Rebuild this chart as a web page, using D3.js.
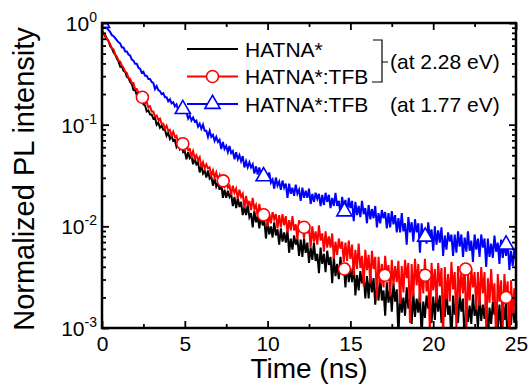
<!DOCTYPE html>
<html>
<head>
<meta charset="utf-8">
<script src="https://cdn.jsdelivr.net/npm/d3@7"></script>
<style>
  body { margin: 0; background: #fff; }
  svg { display: block; }
  text { font-family: "Liberation Sans", Arial, sans-serif; fill: #000; }
</style>
</head>
<body>
<div id="chart"></div>
<script>
// time grid of the decay traces (ns): one sample every 0.1 ns from 0 to 25
const timeStep = 0.1;
const sampleCount = 251;

// log10 of the normalized PL intensity (10 samples = 1 ns per row)
const blackLog = [
  -0.07, -0.11, -0.12, -0.16, -0.18, -0.23, -0.25, -0.29, -0.31, -0.35,
  -0.38, -0.43, -0.43, -0.47, -0.48, -0.53, -0.54, -0.58, -0.60, -0.66,
  -0.66, -0.71, -0.72, -0.76, -0.75, -0.80, -0.81, -0.87, -0.86, -0.90,
  -0.90, -0.94, -0.93, -1.00, -0.98, -1.03, -1.01, -1.05, -1.05, -1.11,
  -1.08, -1.14, -1.11, -1.16, -1.15, -1.22, -1.19, -1.24, -1.21, -1.27,
  -1.26, -1.34, -1.27, -1.33, -1.31, -1.39, -1.33, -1.39, -1.37, -1.47,
  -1.40, -1.48, -1.45, -1.52, -1.45, -1.53, -1.51, -1.60, -1.53, -1.61,
  -1.57, -1.64, -1.58, -1.72, -1.64, -1.72, -1.65, -1.71, -1.68, -1.80,
  -1.71, -1.82, -1.72, -1.81, -1.76, -1.89, -1.81, -1.89, -1.79, -1.91,
  -1.87, -2.01, -1.85, -1.96, -1.90, -2.02, -1.89, -1.99, -1.94, -2.12,
  -1.95, -2.08, -2.00, -2.11, -1.96, -2.09, -2.03, -2.18, -2.02, -2.15,
  -2.06, -2.16, -2.04, -2.26, -2.12, -2.23, -2.09, -2.18, -2.12, -2.29,
  -2.13, -2.30, -2.12, -2.26, -2.16, -2.36, -2.21, -2.33, -2.16, -2.34,
  -2.27, -2.46, -2.21, -2.37, -2.27, -2.45, -2.24, -2.38, -2.30, -2.56,
  -2.30, -2.49, -2.37, -2.52, -2.30, -2.47, -2.39, -2.60, -2.36, -2.55,
  -2.41, -2.55, -2.37, -2.68, -2.48, -2.63, -2.44, -2.56, -2.48, -2.71,
  -2.49, -2.71, -2.46, -2.65, -2.51, -2.77, -2.57, -2.73, -2.49, -2.73,
  -2.63, -2.88, -2.55, -2.75, -2.61, -2.84, -2.56, -2.74, -2.62, -3.10,
  -2.62, -2.85, -2.70, -2.88, -2.60, -2.81, -2.71, -2.96, -2.66, -2.89,
  -2.71, -2.85, -2.65, -3.10, -2.74, -2.90, -2.68, -2.81, -2.69, -2.95,
  -2.69, -2.92, -2.65, -2.84, -2.68, -2.95, -2.73, -2.89, -2.63, -2.87,
  -2.78, -3.15, -2.68, -2.87, -2.73, -2.95, -2.67, -2.84, -2.71, -3.20,
  -2.72, -2.94, -2.78, -2.96, -2.67, -2.88, -2.77, -3.01, -2.70, -2.93,
  -2.77, -2.91, -2.71, -3.15, -2.80, -2.96, -2.74, -2.87, -2.75, -3.01,
  -2.77, -3.00, -2.73, -2.92, -2.76, -3.20, -2.81, -2.97, -2.71, -2.95,
  -2.85
];
const redLog = [
  -0.07, -0.10, -0.14, -0.15, -0.18, -0.21, -0.25, -0.26, -0.31, -0.33,
  -0.37, -0.38, -0.42, -0.44, -0.48, -0.49, -0.54, -0.55, -0.59, -0.59,
  -0.65, -0.65, -0.69, -0.69, -0.73, -0.74, -0.79, -0.78, -0.83, -0.82,
  -0.87, -0.87, -0.92, -0.91, -0.95, -0.94, -0.99, -0.99, -1.04, -1.01,
  -1.06, -1.05, -1.11, -1.07, -1.12, -1.11, -1.19, -1.15, -1.20, -1.19,
  -1.24, -1.19, -1.25, -1.24, -1.31, -1.26, -1.33, -1.30, -1.35, -1.32,
  -1.42, -1.37, -1.43, -1.39, -1.43, -1.42, -1.50, -1.45, -1.52, -1.47,
  -1.54, -1.50, -1.60, -1.54, -1.60, -1.54, -1.62, -1.60, -1.69, -1.60,
  -1.67, -1.63, -1.73, -1.64, -1.71, -1.68, -1.82, -1.70, -1.80, -1.75,
  -1.84, -1.72, -1.83, -1.79, -1.91, -1.78, -1.89, -1.83, -1.90, -1.83,
  -2.00, -1.88, -1.97, -1.86, -1.93, -1.88, -2.02, -1.89, -2.01, -1.88,
  -1.99, -1.90, -2.06, -1.94, -2.04, -1.90, -2.04, -1.98, -2.13, -1.94,
  -2.06, -1.98, -2.12, -1.95, -2.07, -2.00, -2.21, -2.00, -2.15, -2.05,
  -2.18, -1.99, -2.14, -2.07, -2.25, -2.05, -2.21, -2.10, -2.21, -2.07,
  -2.32, -2.15, -2.28, -2.12, -2.22, -2.15, -2.35, -2.16, -2.34, -2.14,
  -2.32, -2.18, -2.48, -2.23, -2.42, -2.17, -2.41, -2.29, -2.59, -2.23,
  -2.43, -2.28, -2.56, -2.24, -2.42, -2.30, -2.72, -2.30, -2.56, -2.37,
  -2.60, -2.29, -2.50, -2.38, -2.69, -2.33, -2.58, -2.39, -2.55, -2.34,
  -2.76, -2.39, -2.65, -2.33, -2.51, -2.36, -2.95, -2.37, -2.69, -2.32,
  -2.58, -2.37, -2.75, -2.42, -2.66, -2.32, -2.64, -2.46, -3.05, -2.36,
  -2.63, -2.42, -2.75, -2.36, -2.59, -2.41, -3.10, -2.40, -2.72, -2.47,
  -2.74, -2.35, -2.62, -2.45, -3.00, -2.39, -2.70, -2.45, -2.66, -2.38,
  -3.05, -2.48, -2.73, -2.41, -2.60, -2.45, -2.82, -2.45, -2.78, -2.40,
  -2.66, -2.45, -3.00, -2.51, -2.75, -2.42, -2.74, -2.56, -3.15, -2.47,
  -2.74, -2.53, -3.00, -2.47, -2.71, -2.54, -3.20, -2.53, -2.86, -2.61,
  -2.89
];
const blueLog = [
   0.00, -0.02, -0.04, -0.05, -0.07, -0.09, -0.12, -0.13, -0.15, -0.17,
  -0.19, -0.20, -0.24, -0.24, -0.28, -0.28, -0.31, -0.32, -0.36, -0.37,
  -0.40, -0.40, -0.44, -0.45, -0.49, -0.48, -0.52, -0.52, -0.55, -0.55,
  -0.58, -0.59, -0.65, -0.62, -0.66, -0.67, -0.70, -0.69, -0.73, -0.73,
  -0.77, -0.75, -0.79, -0.78, -0.82, -0.80, -0.86, -0.84, -0.88, -0.86,
  -0.88, -0.88, -0.94, -0.91, -0.96, -0.93, -0.97, -0.96, -1.02, -0.99,
  -1.04, -1.00, -1.06, -1.06, -1.12, -1.06, -1.12, -1.10, -1.16, -1.12,
  -1.17, -1.15, -1.24, -1.17, -1.24, -1.21, -1.27, -1.21, -1.28, -1.26,
  -1.34, -1.27, -1.34, -1.30, -1.36, -1.31, -1.42, -1.36, -1.42, -1.37,
  -1.42, -1.39, -1.48, -1.41, -1.49, -1.42, -1.49, -1.45, -1.55, -1.49,
  -1.55, -1.47, -1.57, -1.54, -1.63, -1.52, -1.60, -1.56, -1.64, -1.55,
  -1.62, -1.58, -1.72, -1.58, -1.68, -1.62, -1.70, -1.59, -1.68, -1.64,
  -1.75, -1.62, -1.72, -1.65, -1.72, -1.63, -1.78, -1.68, -1.76, -1.67,
  -1.73, -1.68, -1.80, -1.69, -1.79, -1.67, -1.76, -1.69, -1.82, -1.72,
  -1.80, -1.67, -1.80, -1.75, -1.88, -1.71, -1.81, -1.74, -1.87, -1.72,
  -1.82, -1.75, -1.95, -1.76, -1.89, -1.80, -1.91, -1.75, -1.88, -1.82,
  -1.97, -1.79, -1.93, -1.83, -1.92, -1.80, -2.01, -1.87, -1.97, -1.84,
  -1.92, -1.86, -2.02, -1.87, -2.01, -1.85, -1.98, -1.89, -2.06, -1.92,
  -2.06, -1.87, -2.05, -1.97, -2.18, -1.91, -2.06, -1.96, -2.15, -1.93,
  -2.06, -1.97, -2.26, -1.97, -2.15, -2.02, -2.17, -1.96, -2.11, -2.03,
  -2.24, -2.00, -2.18, -2.04, -2.16, -2.01, -2.29, -2.09, -2.23, -2.06,
  -2.15, -2.08, -2.29, -2.08, -2.26, -2.05, -2.20, -2.08, -2.30, -2.11,
  -2.25, -2.05, -2.24, -2.14, -2.35, -2.08, -2.23, -2.12, -2.30, -2.08,
  -2.21, -2.12, -2.40, -2.12, -2.30, -2.17, -2.31, -2.09, -2.25, -2.16,
  -2.37, -2.13, -2.31, -2.17, -2.29, -2.14, -2.43, -2.24, -2.39, -2.23,
  -2.33
];

// symbols drawn on the traces
const circleTimes = [2.44, 4.88, 7.32, 9.76, 12.2, 14.64, 17.08, 19.52, 21.96, 24.4];
const circleValues = [0.186, 0.065, 0.028, 0.013, 0.0098, 0.0038, 0.0033, 0.0033, 0.0038, 0.0020];
const triangleTimes = [0, 4.88, 9.76, 14.64, 19.52, 24.4];
const triangleValues = [1.0, 0.142, 0.031, 0.014, 0.0079, 0.0066];

// axes
const xTicks = [0, 5, 10, 15, 20, 25];
const xMinorTicks = [2.5, 7.5, 12.5, 17.5, 22.5];
const yExponents = [0, -1, -2, -3];

const legendLabels = ['HATNA*', 'HATNA*:TFB', 'HATNA*:TFB'];
const noteLabels = ['(at 2.28 eV)', '(at 1.77 eV)'];
const colors = ['#000000', '#ff0000', '#0000ff'];

const width = 530, height = 385;
const plot = { left: 102, right: 516, top: 23, bottom: 328 };

const svg = d3.select('#chart').append('svg')
  .attr('width', width)
  .attr('height', height);

const x = d3.scaleLinear().domain([0, 25]).range([plot.left, plot.right]);
const y = d3.scaleLog().domain([1e-3, 1]).range([plot.bottom, plot.top]);

const times = d3.range(sampleCount).map(i => i * timeStep);

svg.append('clipPath').attr('id', 'clip')
  .append('rect')
  .attr('x', plot.left).attr('y', plot.top)
  .attr('width', plot.right - plot.left)
  .attr('height', plot.bottom - plot.top);

const body = svg.append('g').attr('clip-path', 'url(#clip)');

const line = d3.line()
  .x((d, i) => x(times[i]))
  .y(d => y(Math.pow(10, d)));

const drawTrace = (vals, color) => {
  body.append('path')
    .datum(vals)
    .attr('d', line)
    .attr('fill', 'none')
    .attr('stroke', color)
    .attr('stroke-width', 2)
    .attr('stroke-linejoin', 'miter');
};

const triangle = d3.symbol().type(d3.symbolTriangle).size(100);

drawTrace(blackLog, colors[0]);
drawTrace(redLog, colors[1]);
body.selectAll('.circ')
  .data(circleTimes)
  .enter().append('circle')
  .attr('class', 'circ')
  .attr('cx', d => x(d))
  .attr('cy', (d, i) => y(circleValues[i]))
  .attr('r', 6)
  .attr('fill', '#fff')
  .attr('stroke', colors[1])
  .attr('stroke-width', 1.6);

drawTrace(blueLog, colors[2]);
body.selectAll('.tri')
  .data(triangleTimes)
  .enter().append('path')
  .attr('class', 'tri')
  .attr('d', triangle)
  .attr('transform', (d, i) => `translate(${x(d)},${y(triangleValues[i])})`)
  .attr('fill', '#fff')
  .attr('stroke', colors[2])
  .attr('stroke-width', 1.6);

// ticks (all pointing inward)
const yMinorTicks = [];
[1e-3, 1e-2, 1e-1].forEach(dec => {
  for (let k = 2; k <= 9; k++) yMinorTicks.push(k * dec);
});
const yMajorTicks = yExponents.map(e => Math.pow(10, e));

const styleAxis = g => {
  g.select('.domain').remove();
  g.selectAll('line').attr('stroke', '#000').attr('stroke-width', 1.8);
};

svg.append('g')
  .attr('transform', `translate(0,${plot.bottom})`)
  .call(d3.axisBottom(x).tickValues(xTicks).tickSize(-7).tickPadding(8).tickFormat(d3.format('d')))
  .call(styleAxis)
  .call(g => g.selectAll('text')
    .style('font-size', '21px')
    .style('font-family', '"Liberation Sans", Arial, sans-serif'));
svg.append('g')
  .attr('transform', `translate(0,${plot.bottom})`)
  .call(d3.axisBottom(x).tickValues(xMinorTicks).tickSize(-4).tickFormat(''))
  .call(styleAxis);
svg.append('g')
  .attr('transform', `translate(0,${plot.top})`)
  .call(d3.axisTop(x).tickValues(xTicks).tickSize(-7).tickFormat(''))
  .call(styleAxis);
svg.append('g')
  .attr('transform', `translate(0,${plot.top})`)
  .call(d3.axisTop(x).tickValues(xMinorTicks).tickSize(-4).tickFormat(''))
  .call(styleAxis);

svg.append('g')
  .attr('transform', `translate(${plot.left},0)`)
  .call(d3.axisLeft(y).tickValues(yMajorTicks).tickSize(-7).tickFormat(''))
  .call(styleAxis);
svg.append('g')
  .attr('transform', `translate(${plot.left},0)`)
  .call(d3.axisLeft(y).tickValues(yMinorTicks).tickSize(-4).tickFormat(''))
  .call(styleAxis);
svg.append('g')
  .attr('transform', `translate(${plot.right},0)`)
  .call(d3.axisRight(y).tickValues(yMajorTicks).tickSize(-7).tickFormat(''))
  .call(styleAxis);
svg.append('g')
  .attr('transform', `translate(${plot.right},0)`)
  .call(d3.axisRight(y).tickValues(yMinorTicks).tickSize(-4).tickFormat(''))
  .call(styleAxis);

// y tick labels as 10^n
const yLab = svg.selectAll('.ylab')
  .data(yExponents)
  .enter().append('text')
  .attr('class', 'ylab')
  .attr('x', plot.left - 5)
  .attr('y', d => y(Math.pow(10, d)) + 8)
  .attr('text-anchor', 'end')
  .style('font-size', '21px')
  .text('10');
yLab.append('tspan')
  .attr('dy', -9)
  .style('font-size', '14px')
  .text(d => String(d));

// frame
svg.append('rect')
  .attr('x', plot.left).attr('y', plot.top)
  .attr('width', plot.right - plot.left)
  .attr('height', plot.bottom - plot.top)
  .attr('fill', 'none')
  .attr('stroke', '#000')
  .attr('stroke-width', 2.5);

// axis titles
svg.append('text')
  .attr('x', (plot.left + plot.right) / 2)
  .attr('y', 378)
  .attr('text-anchor', 'middle')
  .style('font-size', '28px')
  .text('Time (ns)');
svg.append('text')
  .attr('transform', 'translate(34,179) rotate(-90)')
  .attr('text-anchor', 'middle')
  .style('font-size', '29px')
  .text('Normalized PL intensity');

// legend
const legendX1 = 187, legendX2 = 238, legendTextX = 245;
const legendRowY = [49, 76.5, 104];
const legend = svg.append('g');
legendLabels.forEach((label, i) => {
  legend.append('line')
    .attr('x1', legendX1).attr('x2', legendX2)
    .attr('y1', legendRowY[i]).attr('y2', legendRowY[i])
    .attr('stroke', colors[i])
    .attr('stroke-width', 1.8);
  legend.append('text')
    .attr('x', legendTextX)
    .attr('y', legendRowY[i] + 7.5)
    .style('font-size', '21px')
    .text(label);
});
legend.append('circle')
  .attr('cx', (legendX1 + legendX2) / 2).attr('cy', legendRowY[1])
  .attr('r', 6)
  .attr('fill', '#fff').attr('stroke', colors[1]).attr('stroke-width', 1.6);
legend.append('path')
  .attr('d', triangle)
  .attr('transform', `translate(${(legendX1 + legendX2) / 2},${legendRowY[2]})`)
  .attr('fill', '#fff').attr('stroke', colors[2]).attr('stroke-width', 1.6);

// bracket joining the first two entries
legend.append('path')
  .attr('d', 'M373,40H382V82H372M382,62H388')
  .attr('fill', 'none')
  .attr('stroke', '#000')
  .attr('stroke-width', 1.2);
legend.append('text')
  .attr('x', 390).attr('y', 69)
  .style('font-size', '21px')
  .text(noteLabels[0]);
legend.append('text')
  .attr('x', 390).attr('y', legendRowY[2] + 7.5)
  .style('font-size', '21px')
  .text(noteLabels[1]);
</script>
</body>
</html>
